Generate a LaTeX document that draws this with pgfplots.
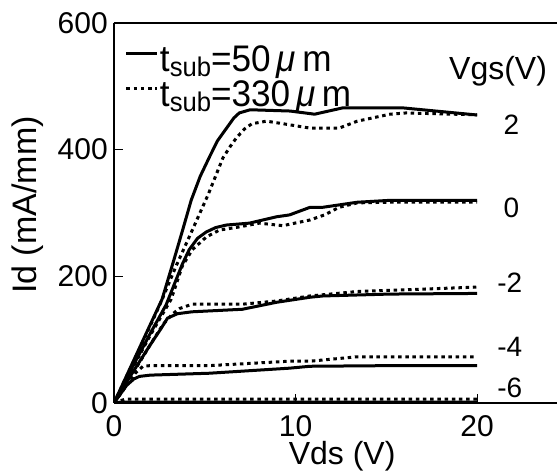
\documentclass[border=0pt]{standalone}
\usepackage{fontspec}
\setmainfont{Liberation Sans}
\newfontfamily\legfont[FakeStretch=0.95]{Liberation Sans}
\usepackage{pgfplots}
\pgfplotsset{compat=1.18}
\newcommand{\myfs}[1]{\fontsize{#1}{#1}\selectfont}
\begin{document}
\begin{tikzpicture}
\begin{axis}[
  at={(0,0)}, anchor=south west,
  scale only axis, width=443pt, height=380pt,
  xmin=0, xmax=24.4, ymin=0, ymax=600,
  axis x line=box, axis y line=left,
  axis line style={-, line width=1.1pt},
  every outer y axis line/.append style={-},
  xtick={0,10,20}, ytick={0,200,400,600},
  xtick pos=left, ytick pos=left,
  tick align=inside, major tick length=9pt,
  tick style={line width=1.1pt, black},
  /pgf/number format/assume math mode=true,
  ticklabel style={font=\myfs{30}},
  xticklabel style={inner sep=0pt, yshift=-12pt},
  yticklabel style={inner sep=0pt, xshift=-6pt},
  xlabel={Vds (V)},
  xlabel style={font=\myfs{32}, at={(axis description cs:0.515,0)}, anchor=base, yshift=-61pt, inner sep=0pt},
  ylabel={Id (mA/mm)},
  ylabel style={font=\myfs{34}, at={(axis description cs:-0.176,0.521)}, anchor=base, inner sep=0pt},
  legend cell align=left,
  legend image code/.code={\draw[#1] (0pt,8pt) -- (31pt,8pt);},
  legend style={draw=none, fill=none, font=\legfont\myfs{37}, inner sep=0pt, outer sep=0pt,
    at={(axis description cs:0,1)}, anchor=north west, xshift=11pt, yshift=-21pt,
    row sep=0pt, column sep=1pt,
    nodes={inner sep=0pt, text height=28pt, text depth=7pt}},
  sol/.style={black, line width=3pt},
  dot/.style={black, line width=3pt, dash pattern=on 3.5pt off 3.7pt},
]
% Vgs = 2
\addplot[sol] coordinates {(0,0) (1,62) (2,124) (2.65,164) (3.31,227) (3.8,275) (4.25,320) (4.75,358) (5.25,388) (5.7,414) (6.2,434) (6.6,450) (6.9,458) (7.5,463) (9.7,461) (11.05,456) (12.6,466) (15.9,466) (19.9,455) (20,455)};
\addlegendentry{t{\myfs{27}\raisebox{-5pt}{sub}}=50\,{\itshape μ}\,m}
\addplot[dot] coordinates {(0,0) (1,61) (2,122) (2.6,160) (3.4,215) (4.25,269) (5.2,330) (6.0,387) (6.4,405) (6.75,419) (7.2,433) (7.6,441) (8.4,445) (9.3,441) (10.8,434) (12.4,434) (13.4,445) (15.2,456) (16.1,458) (20,455)};
\addlegendentry{t{\myfs{27}\raisebox{-5pt}{sub}}=330\,{\itshape μ}\,m}
% Vgs = 0
\addplot[sol, forget plot] coordinates {(0,0) (1,56) (2,110) (2.87,155) (3.76,219) (4.14,242) (4.6,260) (5.08,270) (5.6,277) (6.19,281) (7.46,284) (8.95,294) (9.67,297) (10.8,309) (11.5,309) (13.4,317) (15.2,320) (20,320)};
\addplot[dot, forget plot] coordinates {(0,0) (1,54) (2,107) (3.15,164) (3.76,216) (4.31,242) (5.08,262) (5.8,273) (6.9,278) (8.0,284) (9.3,280) (10.8,289) (11.6,297) (12.4,309) (13.4,316) (15.2,317) (20,317)};
% Vgs = -2
\addplot[sol, forget plot] coordinates {(0,0) (1,47) (2,92) (2.6,118) (2.95,134) (3.5,141) (4.3,144) (7.07,148) (8.95,159) (10.8,167) (11.5,169) (15.2,172) (20,173)};
\addplot[dot, forget plot] coordinates {(0,0) (1,45) (2,92) (2.7,124) (3.2,140) (3.6,149) (4.3,156) (7.07,156) (8.95,161) (10.8,169) (13.4,176) (20,183)};
% Vgs = -4
\addplot[sol, forget plot] coordinates {(0,0) (0.7,28) (1.1,38) (1.4,42) (2,44) (5.25,47) (9.67,55) (10.8,58) (15.2,59) (20,59)};
\addplot[dot, forget plot] coordinates {(0,0) (0.8,32) (1.2,48) (1.6,58) (2,59) (5.25,59) (9.67,66) (10.8,66) (13.4,73) (20,73)};
% Vgs = -6
\addplot[sol, forget plot] coordinates {(0,0) (0.4,1.5) (20,1.5)};
\addplot[dot, forget plot] coordinates {(0,0) (0.6,6) (20,6)};
% labels
\node[anchor=base west, inner sep=0pt, font=\myfs{32}] at (axis cs:18.45,511) {Vgs(V)};
\node[anchor=base west, inner sep=0pt, font=\myfs{28}] at (axis cs:21.45,424) {2};
\node[anchor=base west, inner sep=0pt, font=\myfs{28}] at (axis cs:21.45,293) {0};
\node[anchor=base west, inner sep=0pt, font=\myfs{28}] at (axis cs:21.1,174) {-2};
\node[anchor=base west, inner sep=0pt, font=\myfs{28}] at (axis cs:21.1,73) {-4};
\node[anchor=base west, inner sep=0pt, font=\myfs{28}] at (axis cs:21.1,8.4) {-6};
\end{axis}
\pgfresetboundingbox
\useasboundingbox (-114pt,-68pt) rectangle (443pt,403pt);
\end{tikzpicture}
\end{document}
